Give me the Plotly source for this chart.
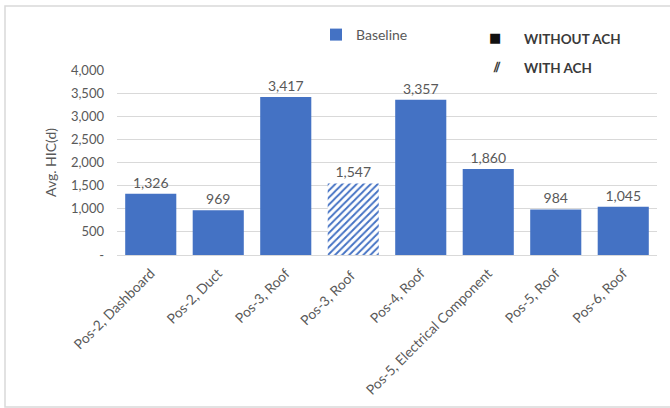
import plotly.graph_objects as go

categories = ["Pos-2, Dashboard", "Pos-2, Duct", "Pos-3, Roof", "Pos-3, Roof ",
              "Pos-4, Roof", "Pos-5, Electrical Component", "Pos-5, Roof", "Pos-6, Roof"]
values = [1326, 969, 3417, 1547, 3357, 1860, 984, 1045]
patterns = ["", "", "", "/", "", "", "", ""]
tick_vals = [0, 500, 1000, 1500, 2000, 2500, 3000, 3500, 4000]
tick_text = ["-", "500", "1,000", "1,500", "2,000", "2,500", "3,000", "3,500", "4,000"]

BLUE = "#4472C4"
GRAY = "#595959"
FONT = "Lato, Open Sans, sans-serif"

W, H = 670, 408
SL, SR, ST, SB = 117, 657, 70, 255  # plot area in window coords
L, T = SL, ST
R = W - SR
B = H - SB
pw, ph = W - L - R, H - T - B

def px(x):
    return (x - L) / pw

def py(y):
    return (H - B - y) / ph

fig = go.Figure()
fig.add_trace(go.Bar(
    x=categories, y=values, name="Baseline",
    marker=dict(color=BLUE, line=dict(width=0),
                pattern=dict(shape=patterns, fgcolor=BLUE, bgcolor="white",
                             size=5, solidity=0.38, fillmode="replace")),
    texttemplate="%{y:,}", textposition="outside",
    textfont=dict(size=14, color=GRAY, family=FONT),
    cliponaxis=False, showlegend=True,
))

fig.update_layout(
    width=W, height=H,
    margin=dict(l=L, r=R, t=T, b=B, autoexpand=False),
    paper_bgcolor="white", plot_bgcolor="white",
    font=dict(family=FONT, color=GRAY),
    bargap=0.243,
    showlegend=True,
    legend=dict(x=px(316), y=py(35), xanchor="left", yanchor="middle",
                orientation="h", font=dict(size=14, color=GRAY),
                bgcolor="rgba(0,0,0,0)", itemwidth=30),
    xaxis=dict(tickangle=-45, tickfont=dict(size=13.8, color=GRAY),
               showline=True, linecolor="#D9D9D9", linewidth=1,
               showgrid=False, ticks="", ticklabelstandoff=4),
    yaxis=dict(range=[0, 4000], tickvals=tick_vals, ticktext=tick_text,
               tickfont=dict(size=13, color=GRAY), ticklabelstandoff=12,
               showgrid=True, gridcolor="#D9D9D9", gridwidth=1,
               zeroline=False, showline=False,
               title=dict(text="Avg. HIC(d)", font=dict(size=14, color=GRAY), standoff=10)),
    shapes=[dict(type="rect", xref="paper", yref="paper",
                 x0=px(5), x1=px(720), y0=py(407), y1=py(6),
                 line=dict(color="#D9D9D9", width=1.5), fillcolor="rgba(0,0,0,0)",
                 layer="below")],
    annotations=[
        dict(text="■", x=px(503), y=py(28), xref="paper", yref="paper",
             showarrow=False, font=dict(size=13, color="#111111", family="DejaVu Sans")),
        dict(text="<b>WITHOUT ACH</b>", x=px(522), y=py(29), xref="paper", yref="paper",
             xanchor="left", showarrow=False, font=dict(size=13.5, color="#3A3A3A")),
        dict(text="<b>⫽</b>", x=px(503), y=py(57), xref="paper", yref="paper",
             showarrow=False, font=dict(size=14, color="#333333", family="DejaVu Sans")),
        dict(text="<b>WITH ACH</b>", x=px(522), y=py(58), xref="paper", yref="paper",
             xanchor="left", showarrow=False, font=dict(size=13.5, color="#3A3A3A")),
    ],
)

fig.write_html("out.html", config={"displayModeBar": False},
               post_script="document.body.style.margin='0';document.body.style.overflow='hidden';")
